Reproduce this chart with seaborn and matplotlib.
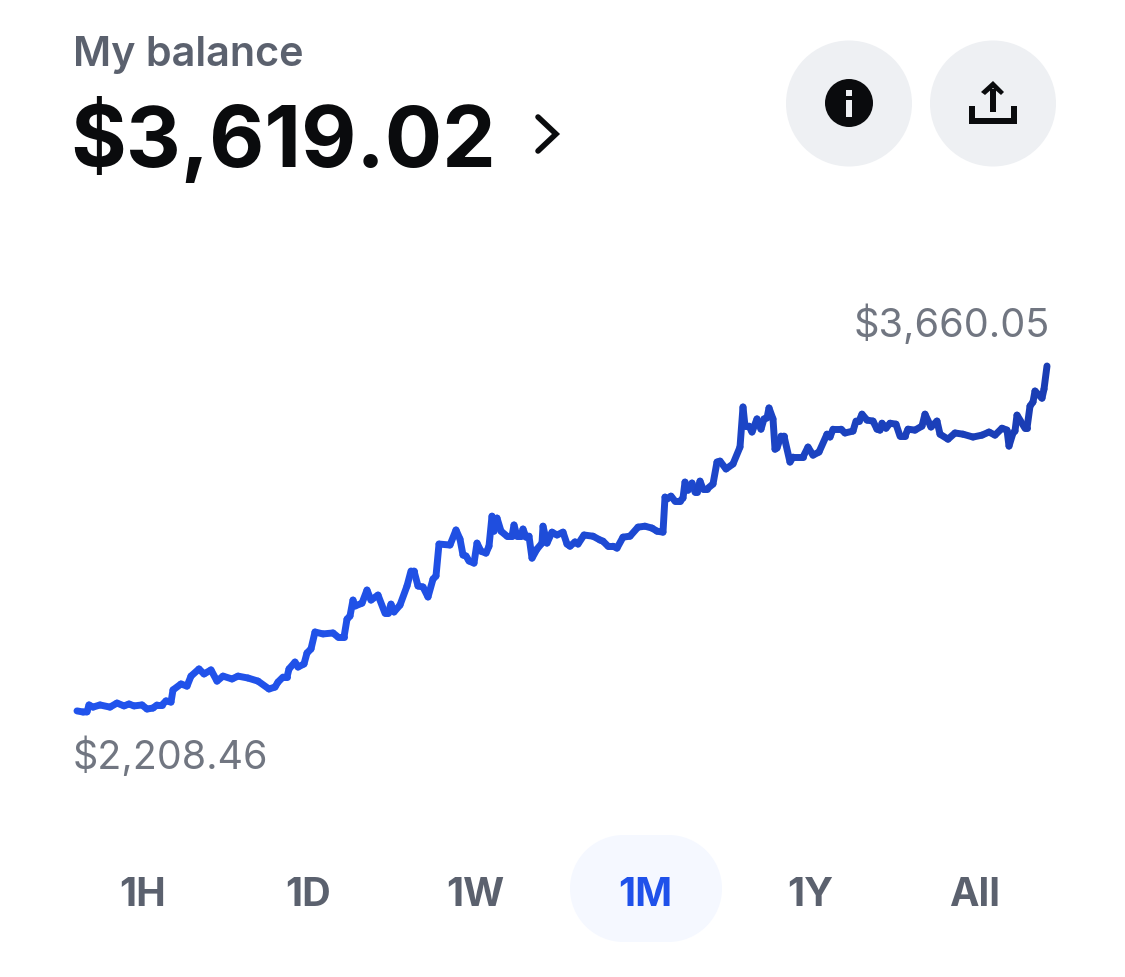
import matplotlib
matplotlib.use("Agg")
import matplotlib.pyplot as plt
from matplotlib.patches import Circle, Rectangle, Polygon
import pandas as pd
import seaborn as sns

# Data
time_steps = [0,6,10,12,16,23,33,40,47,52,57,65,70,76,80,85,89,94,96,104,110,114,122,127,134,140,146,155,161,171,
181,192,198,201,206,210,212,218,221,227,230,234,238,246,256,261,267,270,273,276,278,285,290,294,301,308,311,314,317,323,
330,334,337,341,346,351,356,359,362,373,379,383,386,389,392,397,400,404,409,412,415,417,420,424,430,435,437,440,444,446,
449,452,455,460,465,466,470,475,480,486,490,493,498,501,507,516,523,526,531,536,540,546,553,561,568,575,580,586,588,590,
594,598,603,606,608,611,615,618,620,623,626,630,636,640,643,649,656,663,666,668,672,675,680,684,687,690,692,696,698,700,
704,707,713,716,726,731,736,742,750,753,756,764,768,776,779,782,785,790,796,800,803,805,809,813,819,823,828,831,838,845,
848,854,860,863,871,878,886,896,905,912,918,925,930,932,936,938,940,948,950,953,956,958,965,967,970]
balance = [2213,2208.46,2209,2238,2229,2238,2229,2246,2234,2242,2234,2238,2221,2225,2238,2238,2255,2250,2301,2326,2317,2359,2389,2368,2385,2338,2359,2347,2359,2351,
2338,2305,2313,2334,2355,2355,2389,2418,2397,2410,2456,2473,2544,2536,2540,2523,2523,2598,2611,2678,2653,2665,2720,2678,2699,2623,2623,2661,2628,2657,
2737,2800,2800,2737,2733,2691,2766,2779,2913,2909,2972,2934,2867,2863,2842,2833,2917,2883,2875,2904,3030,2967,3022,2967,2946,2946,2993,2946,2946,2976,
2942,2946,2854,2892,2917,2988,2917,2963,2951,2963,2913,2904,2922,2913,2951,2946,2930,2925,2904,2904,2896,2942,2946,2984,2988,2980,2967,2963,3110,3102,
3114,3093,3093,3106,3173,3139,3169,3131,3131,3177,3144,3144,3165,3257,3261,3228,3249,3320,3488,3408,3408,3383,3438,3395,3438,3442,3484,3438,3311,3316,
3366,3366,3257,3278,3278,3320,3286,3299,3374,3362,3395,3395,3379,3387,3429,3429,3458,3433,3429,3395,3391,3420,3399,3420,3416,3366,3366,3395,3391,3408,
3458,3404,3429,3374,3353,3379,3374,3362,3370,3383,3370,3399,3391,3324,3379,3387,3454,3399,3399,3492,3509,3555,3525,3563,3660.05]
range_labels = ["1H", "1D", "1W", "1M", "1Y", "All"]
selected_range = "1M"
title_text = "My balance"
current_balance = "$3,619.02"
high_label = "$3,660.05"
low_label = "$2,208.46"

W, H = 1125, 978
sns.set_theme(style="white")
plt.rcParams["font.family"] = ["Inter", "DejaVu Sans"]
fig = plt.figure(figsize=(W / 100, H / 100), dpi=100, facecolor="white")

# UI layer in pixel coordinates
ui = fig.add_axes([0, 0, 1, 1])
ui.set_xlim(0, W)
ui.set_ylim(H, 0)
ui.axis("off")

GRAY = "#5B616E"
LABEL = "#717681"
BLACK = "#0A0B0D"
ui.text(73, 66, title_text, fontsize=29.8, fontweight="semibold", color=GRAY)
ui.text(70, 167, current_balance, fontsize=61.3, fontweight="bold", color=BLACK)
ui.plot([538, 556, 538], [118, 135, 152], color=BLACK, lw=4, solid_joinstyle="miter")

for cx in (849, 993):
    ui.add_patch(Circle((cx, 104.5), 63, color="#EEF0F3", lw=0))
ui.add_patch(Circle((849, 104), 24, color=BLACK, lw=0))
ui.add_patch(Rectangle((846, 91), 6, 6, color="#EEF0F3", lw=0))
ui.add_patch(Rectangle((846, 101), 6, 17, color="#EEF0F3", lw=0))
ui.add_patch(Polygon([(969, 107), (975, 107), (975, 119), (1011, 119), (1011, 107), (1017, 107),
                      (1017, 125), (969, 125)], closed=True, color=BLACK, lw=0))
ui.add_patch(Rectangle((990, 90), 6, 23, color=BLACK, lw=0))
ui.add_patch(Polygon([(981, 93), (993, 82), (1004, 93), (1001, 96), (993, 89), (985, 96)],
                     closed=True, color=BLACK, lw=0))

ui.text(1050, 337, high_label, ha="right", fontsize=28.6, color=LABEL)
ui.text(73, 769, low_label, ha="left", fontsize=28.4, color=LABEL)

PILL = "#F5F8FF"
ui.add_patch(Circle((623.5, 889.5), 53.5, color=PILL, lw=0))
ui.add_patch(Circle((668.5, 889.5), 53.5, color=PILL, lw=0))
ui.add_patch(Rectangle((623.5, 836), 45, 107, color=PILL, lw=0))
for cx, lab in zip((143, 308, 475, 645, 810, 975), range_labels):
    ui.text(cx, 906, lab, ha="center", fontsize=28.5, fontweight="bold",
            color="#1F51EA" if lab == selected_range else GRAY)

# Chart layer
ax = fig.add_axes([77 / W, (H - 713) / H, 970 / W, 346 / H])
ax.patch.set_alpha(0)

n_chunks = 24
rows = []
for i in range(len(time_steps) - 1):
    c = i * n_chunks // (len(time_steps) - 1)
    rows.append((time_steps[i], balance[i], c, i))
    rows.append((time_steps[i + 1], balance[i + 1], c, i))
df = pd.DataFrame(rows, columns=["t", "balance", "chunk", "seg"])
palette = sns.blend_palette(["#2153EC", "#2050E4", "#1C46C8", "#1A3DB4"], n_chunks)
sns.lineplot(data=df, x="t", y="balance", hue="chunk", units="seg", estimator=None, sort=False,
             palette=palette, legend=False, linewidth=5, ax=ax, clip_on=False,
             solid_capstyle="round", solid_joinstyle="round")
ax.set_xlim(0, 970)
ax.set_ylim(2208.46, 3660.05)
ax.axis("off")

fig.savefig("out.png", dpi=100, facecolor="white")
